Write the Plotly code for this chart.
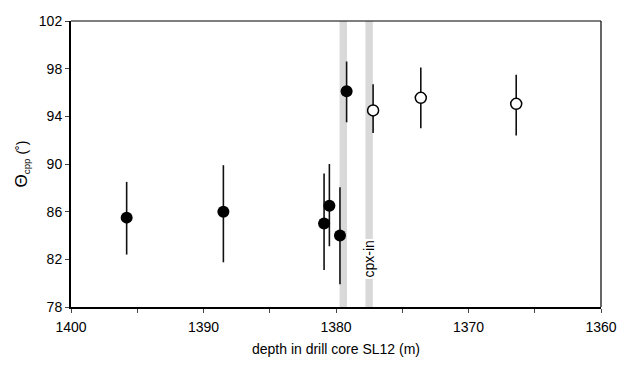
import plotly.graph_objects as go

# filled symbols
depth_filled = [1395.8, 1388.5, 1380.9, 1380.5, 1379.7, 1379.2]
theta_filled = [85.5, 86.0, 85.0, 86.5, 84.0, 96.1]
err_hi_filled = [88.5, 89.9, 89.2, 90.0, 88.05, 98.6]
err_lo_filled = [82.4, 81.75, 81.1, 83.1, 79.9, 93.5]

# open symbols
depth_open = [1377.2, 1373.6, 1366.4]
theta_open = [94.5, 95.55, 95.05]
err_hi_open = [96.7, 98.1, 97.5]
err_lo_open = [92.6, 93.0, 92.4]

# grey bands (depth centre, half width)
band_depths = [1379.45, 1377.5]
band_halfwidth = 0.28
band_label = "cpx-in"
label_y = 82

x_ticks = [1400, 1390, 1380, 1370, 1360]
y_ticks = [78, 82, 86, 90, 94, 98, 102]

FONT = "Liberation Sans, Arial, sans-serif"

def plus(v, hi):
    return [h - a for a, h in zip(v, hi)]

def minus(v, lo):
    return [a - l for a, l in zip(v, lo)]

fig = go.Figure()

fig.add_trace(go.Scatter(
    x=depth_filled, y=theta_filled, mode="markers",
    marker=dict(size=12, color="black", line=dict(width=0)),
    error_y=dict(type="data", symmetric=False,
                 array=plus(theta_filled, err_hi_filled),
                 arrayminus=minus(theta_filled, err_lo_filled),
                 width=0, thickness=1.6, color="#111"),
    showlegend=False, hoverinfo="skip"))

fig.add_trace(go.Scatter(
    x=depth_open, y=theta_open, mode="markers",
    marker=dict(size=11, color="white", line=dict(width=1.5, color="black")),
    error_y=dict(type="data", symmetric=False,
                 array=plus(theta_open, err_hi_open),
                 arrayminus=minus(theta_open, err_lo_open),
                 width=0, thickness=1.6, color="#111"),
    showlegend=False, hoverinfo="skip"))

shapes = []
for d in band_depths:
    shapes.append(dict(type="rect", xref="x", yref="paper",
                       x0=d - band_halfwidth, x1=d + band_halfwidth, y0=0, y1=1,
                       fillcolor="#d9d9d9", line=dict(width=0), layer="below"))
# top and right frame
shapes.append(dict(type="line", xref="paper", yref="paper", x0=0, x1=1, y0=1, y1=1,
                   line=dict(color="black", width=1.2)))
shapes.append(dict(type="line", xref="paper", yref="paper", x0=1, x1=1, y0=0, y1=1,
                   line=dict(color="black", width=1.2)))

fig.update_layout(
    width=629, height=367,
    margin=dict(l=71, r=21, t=21, b=58),
    paper_bgcolor="white", plot_bgcolor="white",
    font=dict(family=FONT, size=14, color="black"),
    shapes=shapes,
    annotations=[dict(x=band_depths[1], y=label_y, xref="x", yref="y",
                      text=band_label, textangle=-90, showarrow=False,
                      bgcolor="white", font=dict(family=FONT, size=14, color="black"),
                      borderpad=1)],
    xaxis=dict(range=[1400, 1360], tickvals=x_ticks, ticks="outside", ticklen=4,
               tickwidth=1, showline=True, linecolor="black", linewidth=2,
               showgrid=False, zeroline=False, ticklabelstandoff=2,
               minor=dict(dtick=5, tick0=1360, ticks="outside", ticklen=4, tickwidth=1,
                          showgrid=False),
               title=dict(text="depth in drill core SL12 (m)", standoff=10,
                          font=dict(size=14))),
    yaxis=dict(range=[78, 102], tickvals=y_ticks, ticks="outside", ticklen=4,
               tickwidth=1, showline=True, linecolor="black", linewidth=2,
               showgrid=False, zeroline=False,
               title=dict(text="<span style='font-size:17px'>Θ</span><sub>cpp</sub> (˚)",
                          standoff=8, font=dict(size=14))),
)

fig.write_html("out.html", config={"displayModeBar": False},
               post_script="document.body.style.margin='0';")
